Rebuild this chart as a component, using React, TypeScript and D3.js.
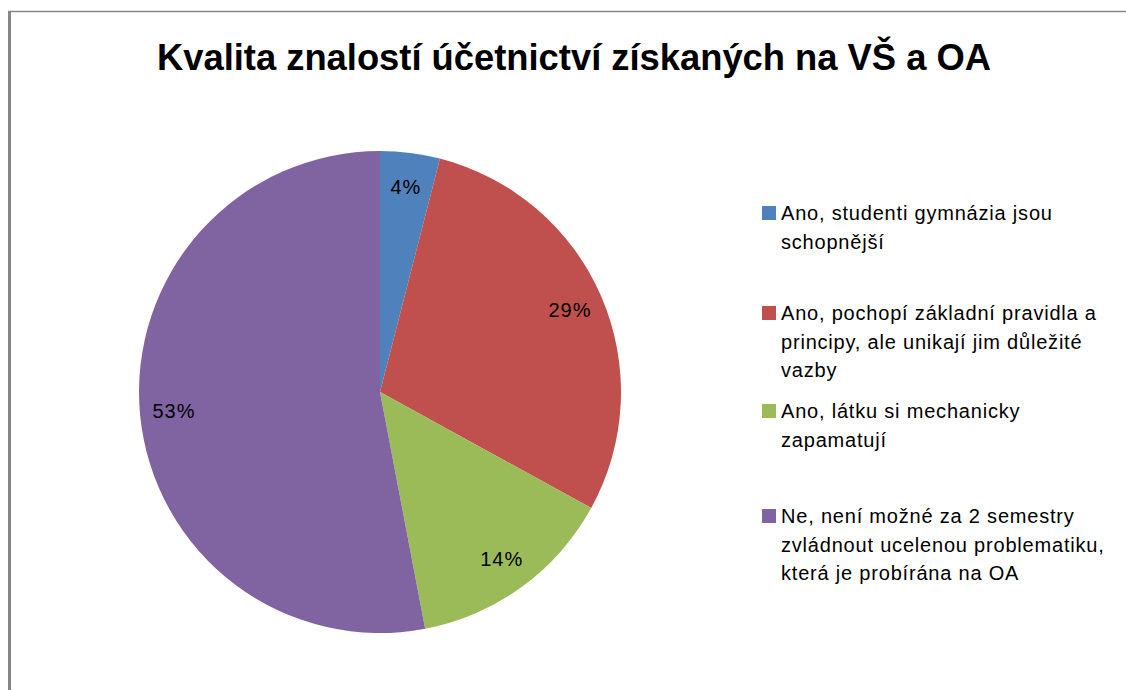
import React from "react";
import * as d3 from "d3";

const title = "Kvalita znalostí účetnictví získaných na VŠ a OA";
const categories = [
  "Ano, studenti gymnázia jsou schopnější",
  "Ano, pochopí základní pravidla a principy, ale unikají jim důležité vazby",
  "Ano, látku si mechanicky zapamatují",
  "Ne, není možné za 2 semestry zvládnout ucelenou problematiku, která je probírána na OA",
];
const legendLines = [
  ["Ano, studenti gymnázia jsou", "schopnější"],
  ["Ano, pochopí základní pravidla a", "principy, ale unikají jim důležité", "vazby"],
  ["Ano, látku si mechanicky", "zapamatují"],
  ["Ne, není možné za 2 semestry", "zvládnout ucelenou problematiku,", "která je probírána na OA"],
];
const values = [4, 29, 14, 53];
const colors = ["#4F81BD", "#C0504D", "#9BBB59", "#8064A2"];

const W = 1126;
const H = 690;
const cx = 380;
const cy = 392;
const R = 241;
const legendBaselines = [220, 320, 418, 523];
const lineH = 28.5;
const FONT = "'Liberation Sans', Arial, sans-serif";

export default function App() {
  const total = d3.sum(values);
  const pie = d3.pie<number>().sort(null).value((d) => d)(values);
  const arc = d3.arc<d3.PieArcDatum<number>>().innerRadius(0).outerRadius(R);
  const labelArc = d3.arc<d3.PieArcDatum<number>>().innerRadius(207).outerRadius(207);
  const fmt = (v: number) => `${Math.round((v / total) * 100)}%`;

  return (
    <svg
      width={W}
      height={H}
      style={{ position: "absolute", left: 0, top: 0, background: "#fff" }}
      fontFamily={FONT}
    >
      <rect x={0} y={0} width={W} height={H} fill="#fff" />
      <line x1={8} y1={11.5} x2={W} y2={11.5} stroke="#868686" strokeWidth={1.5} />
      <line x1={9.5} y1={11} x2={9.5} y2={H} stroke="#868686" strokeWidth={3} />
      <text
        x={574}
        y={70}
        textAnchor="middle"
        fontSize={36}
        fontWeight="bold"
        fill="#000"
        textLength={834}
        lengthAdjust="spacingAndGlyphs"
      >
        {title}
      </text>
      <g transform={`translate(${cx},${cy})`}>
        {pie.map((d, i) => (
          <path key={categories[i]} d={arc(d) || ""} fill={colors[i]} />
        ))}
        {pie.map((d, i) => {
          const [x, y] = labelArc.centroid(d);
          return (
            <text
              key={"l" + i}
              x={x}
              y={y}
              dy="0.35em"
              textAnchor="middle"
              fontSize={20}
              letterSpacing={1}
              fill="#000"
            >
              {fmt(d.value)}
            </text>
          );
        })}
      </g>
      <g>
        {legendLines.map((lines, i) => (
          <g key={"lg" + i}>
            <rect x={762} y={legendBaselines[i] - 14} width={14} height={14} fill={colors[i]} />
            {lines.map((ln, j) => (
              <text
                key={j}
                x={781}
                y={legendBaselines[i] + j * lineH}
                fontSize={20}
                letterSpacing={0.8}
                fill="#000"
              >
                {ln}
              </text>
            ))}
          </g>
        ))}
      </g>
    </svg>
  );
}
